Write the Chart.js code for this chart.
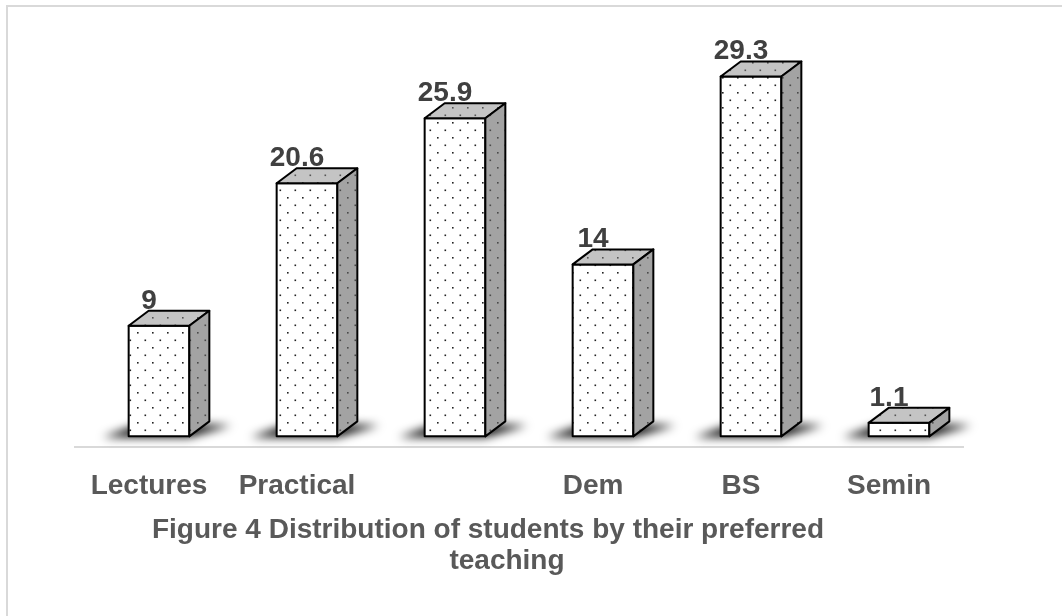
<!DOCTYPE html>
<html>
<head>
<meta charset="utf-8">
<script src="https://cdn.jsdelivr.net/npm/chart.js@4.4.1/dist/chart.umd.min.js"></script>
<style>
    html, body { margin: 0; padding: 0; background: #fff; overflow: hidden; }
</style>
</head>
<body>
<canvas id="chart" width="1062" height="616"></canvas>
<script>
// Chart data
const categories = ['Lectures', 'Practical', '', 'Dem', 'BS', 'Semin'];
const percentages = [9, 20.6, 25.9, 14, 29.3, 1.1];
const titleLines = ['Figure 4 Distribution of students by their preferred', 'teaching'];

// 3D box look
const depthX = 20;
const depthY = 15;
const frontShift = 10;
const fontFamily = '"Liberation Sans", Arial, sans-serif';

// Small dotted pattern like the Excel fill
function dotPattern(bg, dot) {
    const c = document.createElement('canvas');
    c.width = 15;
    c.height = 15;
    const g = c.getContext('2d');
    g.fillStyle = bg;
    g.fillRect(0, 0, 15, 15);
    g.fillStyle = dot;
    g.fillRect(2, 2, 1.6, 1.6);
    g.fillRect(9.5, 9.5, 1.6, 1.6);
    return g.createPattern(c, 'repeat');
}

// Draws the boxes, shadows, value labels, title and frame
const boxPlugin = {
    id: 'boxes',
    beforeDraw(chart) {
        const ctx = chart.ctx;
        ctx.save();
        ctx.strokeStyle = '#d9d9d9';
        ctx.lineWidth = 2;
        ctx.beginPath();
        ctx.moveTo(7, 700);
        ctx.lineTo(7, 6);
        ctx.lineTo(1100, 6);
        ctx.stroke();
        ctx.restore();
    },
    afterDatasetsDraw(chart) {
        const ctx = chart.ctx;
        const bars = chart.getDatasetMeta(0).data;
        const front = dotPattern('#ffffff', '#222222');
        const top = dotPattern('#c4c4c4', '#555555');
        const side = dotPattern('#a3a3a3', '#4a4a4a');

        // shadows first, a dark wedge on the floor
        bars.forEach(bar => {
            const xl = bar.x - bar.width / 2 + frontShift;
            const xr = xl + bar.width;
            const b = bar.base;
            ctx.save();
            ctx.filter = 'blur(5px)';
            ctx.fillStyle = 'rgba(0, 0, 0, 0.95)';
            ctx.beginPath();
            ctx.moveTo(xl - 26, b + 1);
            ctx.lineTo(xr, b + 1);
            ctx.lineTo(xr + depthX + 22, b - depthY + 4);
            ctx.lineTo(xl + depthX - 6, b - depthY + 2);
            ctx.closePath();
            ctx.fill();
            ctx.restore();
        });

        bars.forEach((bar, i) => {
            const xl = bar.x - bar.width / 2 + frontShift;
            const xr = xl + bar.width;
            const y = bar.y;
            const b = bar.base;
            ctx.save();
            ctx.lineWidth = 2;
            ctx.lineJoin = 'round';
            ctx.strokeStyle = '#000000';

            // front face
            ctx.fillStyle = front;
            ctx.beginPath();
            ctx.rect(xl, y, xr - xl, b - y);
            ctx.fill();
            ctx.stroke();

            // top face
            ctx.fillStyle = top;
            ctx.beginPath();
            ctx.moveTo(xl, y);
            ctx.lineTo(xr, y);
            ctx.lineTo(xr + depthX, y - depthY);
            ctx.lineTo(xl + depthX, y - depthY);
            ctx.closePath();
            ctx.fill();
            ctx.stroke();

            // side face
            ctx.fillStyle = side;
            ctx.beginPath();
            ctx.moveTo(xr, y);
            ctx.lineTo(xr + depthX, y - depthY);
            ctx.lineTo(xr + depthX, b - depthY);
            ctx.lineTo(xr, b);
            ctx.closePath();
            ctx.fill();
            ctx.stroke();

            // value label
            ctx.fillStyle = '#404040';
            ctx.font = 'bold 28px ' + fontFamily;
            ctx.textAlign = 'center';
            ctx.textBaseline = 'alphabetic';
            ctx.fillText(String(percentages[i]), bar.x, y - depthY - 2);
            ctx.restore();
        });

        // figure caption under the axis
        const area = chart.chartArea;
        const cx = (area.left + area.right) / 2;
        ctx.save();
        ctx.fillStyle = '#595959';
        ctx.font = 'bold 28px ' + fontFamily;
        ctx.textAlign = 'center';
        ctx.textBaseline = 'alphabetic';
        ctx.fillText(titleLines[0], cx - 31, area.bottom + 91);
        ctx.fillText(titleLines[1], cx - 12, area.bottom + 122);
        ctx.restore();
    }
};

const ctx = document.getElementById('chart').getContext('2d');
new Chart(ctx, {
    type: 'bar',
    data: {
        labels: categories,
        datasets: [{
            data: percentages,
            base: 0,
            backgroundColor: 'rgba(0, 0, 0, 0)',
            borderWidth: 0,
            barPercentage: 0.41,
            categoryPercentage: 1
        }]
    },
    options: {
        responsive: false,
        animation: false,
        layout: {
            padding: { left: 75, right: 99, top: 31, bottom: 91 }
        },
        plugins: {
            legend: { display: false },
            tooltip: { enabled: false }
        },
        scales: {
            x: {
                grid: { display: false, drawTicks: false },
                border: { display: true, color: '#d9d9d9', width: 2 },
                ticks: {
                    color: '#595959',
                    padding: 22,
                    maxRotation: 0,
                    minRotation: 0,
                    autoSkip: false,
                    font: { family: fontFamily, size: 28, weight: 'bold' }
                }
            },
            y: {
                display: false,
                min: -0.9,
                max: 33
            }
        }
    },
    plugins: [boxPlugin]
});
</script>
</body>
</html>
